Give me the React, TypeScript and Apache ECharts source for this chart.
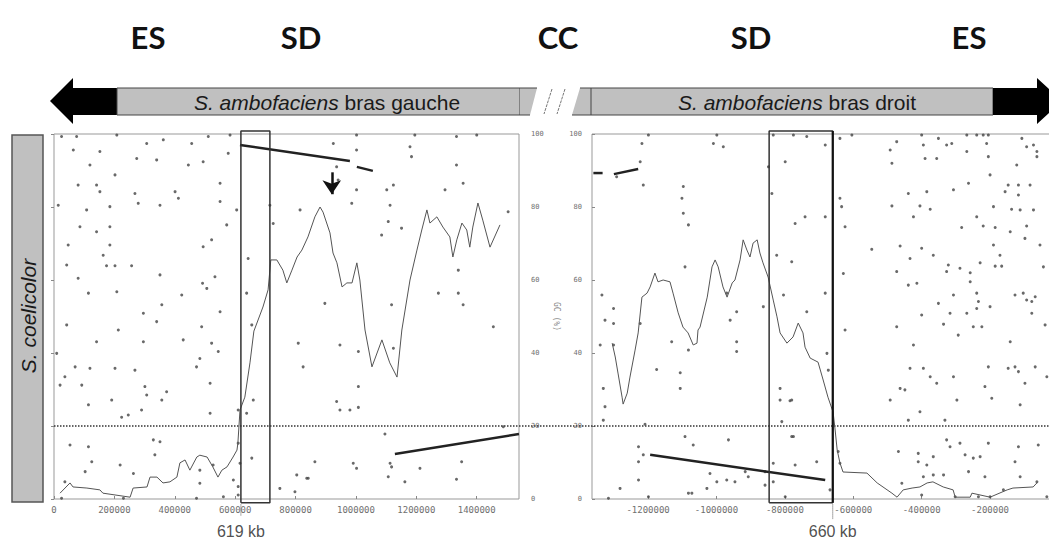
import React, { useEffect, useRef } from "react";
import * as echarts from "echarts";

// ---------- texts ----------
const regionLabels = ["ES", "SD", "CC", "SD", "ES"];
const speciesTop = "S. ambofaciens";
const armLabels = ["bras gauche", "bras droit"];
const speciesSide = "S. coelicolor";
const gcAxisName = "GC (%)";
const boundaryLabels = ["619 kb", "660 kb"];

// ---------- ticks ----------
const leftXTicks = [0, 200000, 400000, 600000, 800000, 1000000, 1200000, 1400000];
const rightXTicks = [-1200000, -1000000, -800000, -600000, -400000, -200000];
const thresholdGC = 20;

// ---------- boundaries (bp) ----------
const leftBox = [619000, 715000];
const rightBox = [-846000, -660000];

// ---------- left panel ----------
const leftDots = [
  [25000, 99.3], [75000, 99.3], [208000, 99.7], [307000, 97.4], [362000, 98.4], [456000, 97.4], [511000, 99.3], [583000, 99.7],
  [64000, 95.6], [152000, 95.2], [340000, 92.9], [445000, 91.5], [494000, 92.4], [577000, 94.7], [119000, 91.5], [274000, 93.3],
  [202000, 88.8], [550000, 86.5], [80000, 86], [141000, 86], [152000, 84.2], [268000, 83.7], [401000, 84.2], [412000, 82.4],
  [14000, 80.5], [108000, 79.2], [185000, 80.1], [279000, 81], [351000, 80.5], [550000, 81.5], [605000, 79.2], [86000, 74.6],
  [141000, 73.2], [185000, 74.6], [572000, 75.1], [522000, 71], [494000, 69.1], [47000, 69.6], [185000, 69.6], [163000, 66.8],
  [174000, 63.9], [202000, 63.9], [257000, 63.9], [42000, 64.1], [351000, 61.4], [533000, 60.9], [492000, 59.1], [80000, 60.5],
  [114000, 56.4], [208000, 56.8], [423000, 55.9], [506000, 57.7], [357000, 53.2], [296000, 50.9], [550000, 51.3], [42000, 47.7],
  [213000, 46.3], [340000, 48.6], [489000, 47.2], [638000, 56.4], [655000, 47.7], [643000, 65.9], [715000, 80.5], [726000, 75.5],
  [141000, 43.1], [296000, 43.1], [428000, 43.6], [522000, 42.7], [544000, 40.4], [9000, 39.9], [70000, 36.2], [119000, 35.8],
  [202000, 35.8], [268000, 35.3], [483000, 38.5], [472000, 36.2], [36000, 33.5], [92000, 31.2], [20000, 31.2], [301000, 30.8],
  [307000, 28.5], [373000, 29.4], [517000, 31.7], [191000, 27.1], [357000, 27.1], [114000, 25.8], [290000, 24.4], [224000, 22.4],
  [246000, 23], [517000, 23.5], [660000, 27.1], [638000, 23.5], [53000, 14.8], [114000, 14.3], [329000, 16.2], [351000, 15.7],
  [334000, 12.1], [125000, 10.2], [219000, 9.3], [263000, 7], [103000, 7.5], [483000, 7.9], [527000, 9.3], [616000, 9.8],
  [655000, 11.2], [36000, 4.7], [483000, 4.3], [594000, 5.2], [25000, 0.2], [230000, 0.2], [472000, 0.2], [561000, 0.6],
  [610000, 1.1], [610000, 3.4], [610000, 15.3], [610000, 24.4], [748000, 2.9], [798000, 2], [804000, 6.6], [842000, 5.7],
  [864000, 10.2], [809000, 42.7], [825000, 36.2], [947000, 42.2], [936000, 26.7], [947000, 24.4],
  [925000, 97.4], [1002000, 99.7], [1002000, 95.6], [1195000, 99.7], [1179000, 96.5], [1184000, 93.8], [1333000, 99.3],
  [1400000, 99.7], [1333000, 91.5], [936000, 91], [941000, 87.4], [1002000, 84.7], [1102000, 84.7], [1124000, 86],
  [1355000, 86.5], [1295000, 84.7], [986000, 81], [1113000, 80.5], [1107000, 76], [1151000, 74.2], [1085000, 72.3],
  [1504000, 78.7], [1339000, 62.7], [1273000, 56.4], [1339000, 56.4], [1355000, 53.2], [1118000, 53.2], [897000, 53.6],
  [1455000, 47.2], [815000, 79.2], [1008000, 40.4], [1008000, 30.8], [980000, 24.4], [1008000, 25.1], [1124000, 41.3],
  [1096000, 17.8], [837000, 5.7], [991000, 9.8], [1002000, 8.4], [1113000, 9.8], [1118000, 8.8], [1107000, 6.1],
  [1162000, 4.7], [1212000, 8.4], [1350000, 10.2], [1333000, 5.4], [1488000, 19.8],
];

const leftGC = [
  [20000, 1.6], [53000, 4.4], [63000, 3.3], [109000, 3], [152000, 2.5], [162000, 1.6], [252000, 0.5], [262000, 3],
  [308000, 3.3], [318000, 6], [341000, 6], [361000, 4.4], [384000, 4.7], [407000, 6], [417000, 9.9], [434000, 10.7],
  [450000, 7.9], [473000, 11.5], [483000, 12], [507000, 11.5], [526000, 8.8], [543000, 6], [556000, 7.9], [573000, 8.8],
  [593000, 11.5], [606000, 13.4], [609000, 15.3], [616000, 24.4], [632000, 27.9], [649000, 37.3], [662000, 46],
  [692000, 52.6], [709000, 57.3], [718000, 65.5], [738000, 65.5], [758000, 62.7], [771000, 59.2], [788000, 62.7],
  [805000, 66.3], [821000, 68.2], [841000, 71.8], [864000, 77.3], [881000, 80], [891000, 78.6], [914000, 72.9],
  [924000, 67.4], [937000, 64.7], [954000, 58.1], [970000, 59.2], [987000, 59.2], [1003000, 64.7], [1013000, 60],
  [1030000, 46.3], [1053000, 36.2], [1086000, 43.6], [1112000, 37.3], [1136000, 33.4], [1152000, 46.3], [1179000, 60],
  [1202000, 68.2], [1218000, 73.7], [1235000, 79.2], [1245000, 75.6], [1268000, 77.3], [1288000, 74.5], [1311000, 71.8],
  [1321000, 66.3], [1334000, 71], [1351000, 75.6], [1367000, 73.7], [1377000, 69], [1387000, 74.5], [1404000, 81.1],
  [1420000, 76.4], [1444000, 69], [1477000, 75.1],
];

const leftSynteny = [
  [[616000, 97], [980000, 92.6]],
  [[1003000, 91], [1056000, 89.9]],
  [[1129000, 12.3], [1540000, 17.8]],
];

const leftPeakArrow = [[920000, 89.5], [920000, 83.5]];

// ---------- right panel ----------
const rightDots = [
  [-1199000, 99.7], [-1218000, 97.4], [-1223000, 92.4], [-1214000, 86], [-1292000, 88.3], [-999000, 99.7], [-1009000, 97.4],
  [-980000, 96.5], [-1097000, 85.6], [-1101000, 82.4], [-1097000, 78.3], [-1082000, 75.1], [-1092000, 63.6], [-1335000, 55.9],
  [-1326000, 49], [-1301000, 52.2], [-1301000, 48.1], [-1223000, 48.1], [-970000, 56.4], [-941000, 51.3], [-960000, 49],
  [-863000, 52.7], [-848000, 91], [-838000, 83.7], [-824000, 66.8], [-780000, 65], [-799000, 92.4], [-770000, 75.5],
  [-741000, 77.3], [-804000, 55.9], [-736000, 51.3], [-834000, 99.7], [-775000, 99.7], [-736000, 99.3], [-682000, 97],
  [-682000, 77.3], [-682000, 56.4], [-639000, 98.8], [-604000, 99.7], [-639000, 82.4], [-634000, 80.1], [-624000, 74.6],
  [-629000, 61.8], [-624000, 46.3], [-473000, 97.9], [-492000, 95.6], [-487000, 92], [-400000, 99.7], [-395000, 97],
  [-390000, 93.3], [-356000, 93.3], [-351000, 98.8], [-327000, 97], [-312000, 97.4], [-268000, 99.7], [-268000, 95.2],
  [-239000, 99.7], [-220000, 99.7], [-205000, 99.7], [-210000, 97.4], [-205000, 93.8], [-107000, 98.8], [-93000, 96.5],
  [-73000, 97], [-63000, 95.2], [-63000, 93.8], [-122000, 91.5], [-200000, 88.8], [-263000, 86.5], [-385000, 84.2],
  [-439000, 83.7], [-307000, 84.7], [-147000, 86], [-117000, 86], [-83000, 86], [-156000, 84.2], [-117000, 83.3],
  [-487000, 80.3], [-405000, 80.3], [-375000, 79.4], [-190000, 80.1], [-137000, 79.4], [-112000, 79.2], [-73000, 79.2],
  [-424000, 77.3], [-239000, 77.3], [-283000, 74.4], [-220000, 74.8], [-185000, 74.4], [-141000, 73.2], [-93000, 74.8],
  [-98000, 71.4], [-546000, 68.4], [-463000, 69.3], [-400000, 68.7], [-366000, 66.8], [-434000, 65.9], [-190000, 69.6],
  [-171000, 66.8], [-185000, 63.8], [-166000, 63.8], [-54000, 69.6], [-322000, 64.1], [-288000, 63.2], [-258000, 62],
  [-229000, 64.7], [-327000, 62.3], [-473000, 62.3], [-414000, 59.1], [-439000, 58.6], [-258000, 59.5], [-307000, 55.9],
  [-239000, 56.4], [-200000, 52.7], [-234000, 54.1], [-239000, 52.2], [-103000, 56.4], [-93000, 54.5], [-78000, 54.1],
  [-68000, 55.4], [-127000, 55.9], [-351000, 53.6], [-317000, 50.9], [-268000, 50.9], [-249000, 47.2], [-224000, 47.2],
  [-336000, 47.9], [-400000, 50.4], [-473000, 47.2], [-78000, 50.9], [-39000, 47.7], [-44000, 63.6],
  [-1340000, 42.2], [-1301000, 42.2], [-1331000, 30.3], [-1326000, 25.3], [-1331000, 21.6], [-1175000, 35.5],
  [-1106000, 34.6], [-1106000, 30.3], [-1131000, 43.1], [-1082000, 40.8], [-941000, 43.1], [-941000, 40.4],
  [-1209000, 20.5], [-1228000, 14.3], [-1228000, 10.2], [-1228000, 5.2], [-1214000, 12.1], [-1282000, 2.9],
  [-1316000, 0.2], [-1199000, 0.6], [-1092000, 17.1], [-1068000, 14.8], [-965000, 16.2], [-1019000, 7], [-999000, 4.7],
  [-970000, 5.2], [-946000, 4.7], [-1028000, 2.9], [-1082000, 1.6], [-1072000, 1.6], [-916000, 7.5], [-907000, 6.1],
  [-858000, 3.8], [-814000, 30.3], [-814000, 27.1], [-785000, 26.9], [-809000, 21.2], [-775000, 17.1], [-834000, 9.8],
  [-834000, 4.7], [-770000, 9.3], [-707000, 10.2], [-799000, 0.6], [-858000, 7.5],
  [-677000, 39.9], [-673000, 35.3], [-780000, 27.1], [-780000, 17.1], [-668000, 2.5], [-644000, 13], [-639000, 9.8],
  [-424000, 42.2], [-434000, 35.8], [-395000, 35.8], [-375000, 33.5], [-356000, 31.7], [-463000, 30.3], [-449000, 29.9],
  [-492000, 27.1], [-405000, 23.9], [-439000, 21.6], [-332000, 21.6], [-297000, 27.1], [-307000, 33.5], [-293000, 44.9],
  [-205000, 36.2], [-215000, 30.8], [-195000, 27.6], [-147000, 35.8], [-127000, 36.2], [-117000, 34.9], [-98000, 31.7],
  [-112000, 25.8], [-141000, 43.1], [-68000, 36.2], [-34000, 33.5], [-468000, 13], [-410000, 12.5], [-366000, 11.6],
  [-327000, 16.2], [-317000, 14.3], [-288000, 15.3], [-410000, 10.2], [-385000, 9.3], [-395000, 6.1], [-366000, 6.6],
  [-336000, 6.6], [-273000, 12.1], [-249000, 11.2], [-229000, 11.6], [-263000, 7.5], [-215000, 6.1], [-205000, 15.3],
  [-117000, 14.3], [-127000, 10.2], [-112000, 6.1], [-59000, 14.8], [-63000, 4.7], [-34000, 0.6], [-458000, 4.3],
  [-400000, 1.1], [-302000, 0.6], [-234000, 0.6], [-200000, 0.6], [-161000, 2.5],
];

const rightGC = [
  [-1305000, 42.7], [-1296000, 38.9], [-1288000, 34.5], [-1276000, 27.9], [-1273000, 26], [-1261000, 29], [-1253000, 33.4],
  [-1238000, 40.8], [-1229000, 45.5], [-1218000, 55.3], [-1203000, 56.4], [-1194000, 58.1], [-1180000, 61.9],
  [-1171000, 59.5], [-1156000, 60], [-1136000, 59.5], [-1127000, 56.4], [-1112000, 51], [-1098000, 47.1], [-1083000, 45.5],
  [-1068000, 42.2], [-1057000, 42.7], [-1054000, 46.3], [-1048000, 47.1], [-1027000, 55.3], [-1013000, 63.6],
  [-1004000, 65.5], [-995000, 63.6], [-981000, 58.1], [-969000, 55.3], [-954000, 59.2], [-946000, 60], [-931000, 65.5],
  [-922000, 71], [-911000, 68.2], [-902000, 66.3], [-893000, 70.1], [-881000, 71], [-873000, 67.4], [-864000, 64.7],
  [-849000, 60.8], [-834000, 54.5], [-823000, 49.9], [-814000, 45.5], [-794000, 42.7], [-776000, 44.4], [-761000, 48.2],
  [-747000, 45.5], [-741000, 41.6], [-726000, 38.6], [-703000, 37.5], [-688000, 32.6], [-674000, 27.9], [-659000, 23.8],
  [-653000, 18.9], [-647000, 13.4], [-639000, 9.9], [-630000, 7.4], [-560000, 7.1], [-530000, 4.4], [-487000, 1.6],
  [-472000, 0.5], [-454000, 2.5], [-428000, 3], [-405000, 3.3], [-384000, 4.4], [-367000, 4.7], [-337000, 3.3],
  [-308000, 2.5], [-302000, 0.5], [-258000, 0.5], [-253000, 1.6], [-200000, 0.5], [-150000, 2.5], [-133000, 3],
  [-74000, 3.3], [-63000, 4.4],
];

const rightSynteny = [
  [[-1360000, 89.3], [-1333000, 89.3]],
  [[-1300000, 89.0], [-1229000, 90.4]],
  [[-1194000, 12.1], [-682000, 5.2]],
];

// ---------- styling ----------
const MONO = '"DejaVu Sans Mono", monospace';
const SANS = '"Liberation Sans", Arial, sans-serif';
const DOT_COLOR = "#444";
const CURVE_COLOR = "#555";
const SYN_COLOR = "#222";
const BOX_COLOR = "#333";
const AXIS_GRAY = "#999";

const boxPath = (b: number[]) => [
  [b[0], -1], [b[1], -1], [b[1], 100.8], [b[0], 100.8], [b[0], -1],
];

function buildOption() {
  const xLabel = (ticks: number[]) => ({
    customValues: ticks,
    formatter: (v: number) => String(v),
    fontFamily: MONO,
    fontSize: 9,
    color: "#6f6f6f",
    margin: 6,
  });
  const xTick = (ticks: number[]) => ({
    show: true,
    inside: true,
    length: 3,
    customValues: ticks,
    lineStyle: { color: "#888" },
  });
  const yCommon = {
    type: "value",
    min: 0,
    max: 100,
    interval: 20,
    axisLine: { show: false },
    splitLine: { show: false },
    axisTick: { show: true, inside: true, length: 3, lineStyle: { color: "#888" } },
  };

  const lineSeg = (data: number[][], xi: number, color: string, width: number, type = "solid", z = 4) => ({
    type: "line",
    xAxisIndex: xi,
    yAxisIndex: xi,
    data,
    showSymbol: false,
    symbol: "none",
    clip: false,
    silent: true,
    z,
    lineStyle: { color, width, type },
  });

  const labelPoint = (x: number, text: string, xi: number) => ({
    type: "scatter",
    xAxisIndex: xi,
    yAxisIndex: xi,
    data: [[x, -8.8]],
    symbolSize: 0,
    clip: false,
    silent: true,
    label: {
      show: true,
      position: "inside",
      formatter: text,
      fontFamily: SANS,
      fontSize: 16,
      color: "#222",
    },
  });

  const series: any[] = [
    // left panel
    {
      type: "scatter",
      xAxisIndex: 0,
      yAxisIndex: 0,
      data: leftDots,
      symbolSize: 3,
      itemStyle: { color: DOT_COLOR },
      silent: true,
      z: 2,
    },
    {
      ...lineSeg(leftGC, 0, CURVE_COLOR, 1, "solid", 3),
      markLine: {
        silent: true,
        symbol: ["none", "arrow"],
        symbolSize: 14,
        label: { show: false },
        lineStyle: { color: "#111", width: 2.5, type: "solid" },
        data: [[{ coord: leftPeakArrow[0] }, { coord: leftPeakArrow[1] }]],
      },
    },
    ...leftSynteny.map((s) => lineSeg(s, 0, SYN_COLOR, 2.5)),
    lineSeg(boxPath(leftBox), 0, BOX_COLOR, 1.5, "solid", 5),
    lineSeg([[leftBox[0], -1.5], [leftBox[0], -4.5]], 0, "#555", 1, "dotted", 5),
    labelPoint(leftBox[0], boundaryLabels[0], 0),

    // right panel
    {
      type: "scatter",
      xAxisIndex: 1,
      yAxisIndex: 1,
      data: rightDots,
      symbolSize: 3,
      itemStyle: { color: DOT_COLOR },
      silent: true,
      z: 2,
    },
    lineSeg(rightGC, 1, CURVE_COLOR, 1, "solid", 3),
    ...rightSynteny.map((s) => lineSeg(s, 1, SYN_COLOR, 2.5)),
    lineSeg(boxPath(rightBox), 1, BOX_COLOR, 1.5, "solid", 5),
    lineSeg([[rightBox[1], -1], [rightBox[1], 100.8]], 1, "#111", 2.2, "solid", 6),
    lineSeg([[rightBox[1], -1.5], [rightBox[1], -5.5]], 1, "#555", 1, "dotted", 5),
    labelPoint(rightBox[1], boundaryLabels[1], 1),

    // threshold line spanning both panels
    lineSeg([[0, thresholdGC], [1, thresholdGC]], 2, "#333", 1.5, "dotted", 1),
  ];

  const regionX = [148, 301, 558, 751, 969];
  const graphic: any[] = [
    ...regionLabels.map((t, i) => ({
      type: "text",
      x: regionX[i],
      y: 37,
      style: {
        text: t,
        fontFamily: "Lato, sans-serif",
        fontWeight: "bold",
        fontSize: 31,
        fill: "#111",
        align: "center",
        verticalAlign: "middle",
        textAlign: "center",
        textVerticalAlign: "middle",
      },
    })),
    // left black arrow
    {
      type: "polygon",
      shape: { points: [[50, 101], [73, 78], [73, 88], [118, 88], [118, 115], [73, 115], [73, 124]] },
      style: { fill: "#000" },
    },
    // left gray box
    {
      type: "rect",
      shape: { x: 117, y: 88, width: 403, height: 27 },
      style: { fill: "#c0c0c0", stroke: "#444", lineWidth: 1 },
    },
    // break pieces
    {
      type: "polygon",
      shape: { points: [[520, 88], [537, 88], [530, 115], [520, 115]] },
      style: { fill: "#c0c0c0" },
    },
    { type: "line", shape: { x1: 520, y1: 88, x2: 537, y2: 88 }, style: { stroke: "#444", lineWidth: 1 } },
    { type: "line", shape: { x1: 520, y1: 115, x2: 530, y2: 115 }, style: { stroke: "#444", lineWidth: 1 } },
    { type: "line", shape: { x1: 552, y1: 89, x2: 544, y2: 114 }, style: { stroke: "#777", lineWidth: 1, lineDash: [3, 1] } },
    { type: "line", shape: { x1: 565, y1: 89, x2: 557, y2: 114 }, style: { stroke: "#777", lineWidth: 1, lineDash: [3, 1] } },
    {
      type: "polygon",
      shape: { points: [[580, 88], [591, 88], [591, 115], [572, 115]] },
      style: { fill: "#c0c0c0" },
    },
    { type: "line", shape: { x1: 580, y1: 88, x2: 591, y2: 88 }, style: { stroke: "#444", lineWidth: 1 } },
    { type: "line", shape: { x1: 572, y1: 115, x2: 591, y2: 115 }, style: { stroke: "#444", lineWidth: 1 } },
    // right gray box
    {
      type: "rect",
      shape: { x: 591, y: 88, width: 402, height: 27 },
      style: { fill: "#c0c0c0", stroke: "#444", lineWidth: 1 },
    },
    // right black arrow
    {
      type: "polygon",
      shape: { points: [[993, 88], [1037, 88], [1037, 78], [1062, 101], [1037, 124], [1037, 115], [993, 115]] },
      style: { fill: "#000" },
    },
    // banner texts
    ...armLabels.map((arm, i) => ({
      type: "text",
      x: i === 0 ? 327 : 797,
      y: 102,
      style: {
        text: `{i|${speciesTop}} ${arm}`,
        fontFamily: SANS,
        fontSize: 21,
        fill: "#1a1a1a",
        align: "center",
        verticalAlign: "middle",
        textAlign: "center",
        textVerticalAlign: "middle",
        rich: { i: { fontStyle: "italic", fontFamily: SANS, fontSize: 21, fill: "#1a1a1a" } },
      },
    })),
    // side label
    {
      type: "rect",
      shape: { x: 12, y: 135, width: 31, height: 367 },
      style: { fill: "#c0c0c0", stroke: "#555", lineWidth: 1.5 },
    },
    {
      type: "text",
      x: 28,
      y: 316,
      rotation: Math.PI / 2,
      style: {
        text: speciesSide,
        fontFamily: SANS,
        fontStyle: "italic",
        fontSize: 21,
        fill: "#1a1a1a",
        align: "center",
        verticalAlign: "middle",
        textAlign: "center",
        textVerticalAlign: "middle",
      },
    },
  ];

  return {
    animation: false,
    backgroundColor: "#fff",
    grid: [
      { left: 54, top: 134, width: 465, height: 365, show: true, borderColor: AXIS_GRAY, borderWidth: 1, backgroundColor: "transparent", outerBoundsMode: "none" },
      { left: 592, top: 134, right: -5, height: 365, show: true, borderColor: AXIS_GRAY, borderWidth: 1, backgroundColor: "transparent", outerBoundsMode: "none" },
      { left: 54, top: 134, right: 0, height: 365, show: false, outerBoundsMode: "none" },
    ],
    xAxis: [
      {
        gridIndex: 0, type: "value", min: 0, max: 1540000,
        axisLine: { show: false }, splitLine: { show: false },
        axisTick: xTick(leftXTicks), axisLabel: xLabel(leftXTicks),
      },
      {
        gridIndex: 1, type: "value", min: -1364000, max: -13000,
        axisLine: { show: false }, splitLine: { show: false },
        axisTick: xTick(rightXTicks), axisLabel: xLabel(rightXTicks),
      },
      { gridIndex: 2, type: "value", min: 0, max: 1, show: false },
    ],
    yAxis: [
      {
        ...yCommon, gridIndex: 0, position: "right",
        axisLabel: { fontFamily: MONO, fontSize: 7, color: "#6f6f6f", margin: 12 },
        name: gcAxisName, nameLocation: "middle", nameGap: 33, nameRotate: -90,
        nameTextStyle: { fontFamily: MONO, fontSize: 8, color: "#888" },
      },
      {
        ...yCommon, gridIndex: 1, position: "left",
        axisLabel: { fontFamily: MONO, fontSize: 7, color: "#6f6f6f", margin: 10 },
      },
      { gridIndex: 2, type: "value", min: 0, max: 100, show: false },
    ],
    series,
    graphic,
  };
}

export default function App() {
  const ref = useRef<HTMLDivElement>(null);
  useEffect(() => {
    if (!ref.current) return;
    const chart = echarts.init(ref.current, undefined, { renderer: "svg" });
    chart.setOption(buildOption() as any);
    return () => chart.dispose();
  }, []);
  return (
    <div
      ref={ref}
      style={{ position: "absolute", left: 0, top: 0, width: 1049, height: 540, background: "#fff" }}
    />
  );
}
